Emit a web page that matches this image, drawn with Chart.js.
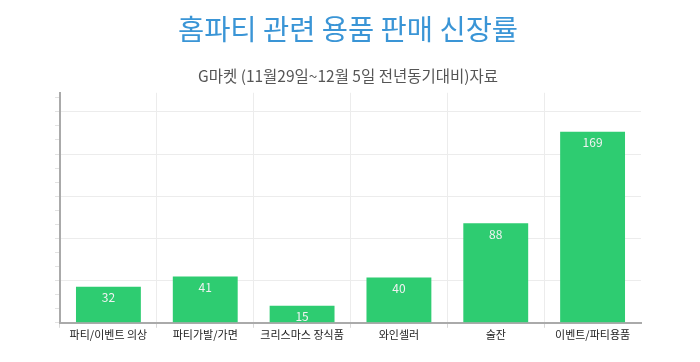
<!DOCTYPE html>
<html>
<head>
<meta charset="utf-8">
<script src="https://cdn.jsdelivr.net/npm/chart.js@4"></script>
<style>
  body { margin: 0; background: #fff; }
  #wrap { width: 700px; height: 362px; }
</style>
</head>
<body>
<div id="wrap"><canvas id="chart" width="700" height="362"></canvas></div>
<script>
// Data
var categories = ['파티/이벤트 의상', '파티가발/가면', '크리스마스 장식품', '와인셀러', '술잔', '이벤트/파티용품'];
var growth = [32, 41, 15, 40, 88, 169];

var FONT = '"Noto Sans CJK KR", "Noto Sans", sans-serif';
var yMax = 203.5;
var yStep = 12.444;  // minor tick spacing, every third one gets a grid line

// Draw the value inside the top of each bar
var valueLabels = {
    id: 'valueLabels',
    afterDatasetsDraw: function(chart) {
        var ctx = chart.ctx;
        var meta = chart.getDatasetMeta(0);
        ctx.save();
        ctx.font = '12px ' + FONT;
        ctx.fillStyle = '#f2f2f2';
        ctx.textAlign = 'center';
        ctx.textBaseline = 'middle';
        meta.data.forEach(function(bar, i) {
            ctx.fillText(growth[i], bar.x, bar.y + 11);
        });
        ctx.restore();
    }
};

var ctx = document.getElementById('chart').getContext('2d');
new Chart(ctx, {
    type: 'bar',
    data: {
        labels: categories,
        datasets: [{
            data: growth,
            backgroundColor: '#2ecc71',
            barPercentage: 0.67,
            categoryPercentage: 1
        }]
    },
    options: {
        responsive: false,
        animation: false,
        layout: { padding: { left: 55, right: 59, bottom: 21 } },
        plugins: {
            legend: { display: false },
            tooltip: { enabled: false },
            title: {
                display: true,
                text: '홈파티 관련 용품 판매 신장률',
                color: '#3a95d6',
                font: { family: FONT, size: 28.5, weight: 'normal' },
                padding: { top: 12, bottom: 21 }
            },
            subtitle: {
                display: true,
                text: 'G마켓 (11월29일~12월 5일 전년동기대비)자료',
                color: '#555',
                font: { family: FONT, size: 15.5 },
                padding: { top: 0, bottom: 7 }
            }
        },
        scales: {
            x: {
                grid: {
                    color: function(c) {
                        return (c.index === undefined || c.index === 0 || c.index >= categories.length) ? 'rgba(0,0,0,0)' : '#ececec';
                    },
                    tickColor: function(c) {
                        return (c.index === undefined || c.index >= categories.length) ? 'rgba(0,0,0,0)' : '#d8d8d8';
                    },
                    tickLength: 5
                },
                border: { color: '#aaa', width: 2 },
                ticks: { color: '#222', font: { family: FONT, size: 11 }, padding: 0 }
            },
            y: {
                min: 0,
                max: yMax,
                afterBuildTicks: function(axis) {
                    var t = [];
                    for (var k = 0; k * yStep <= yMax; k++) t.push({ value: k * yStep });
                    axis.ticks = t;
                },
                grid: {
                    color: function(c) {
                        return (c.index % 3 === 0 && c.index > 0) ? '#ececec' : 'rgba(0,0,0,0)';
                    },
                    tickColor: '#e2e2e2',
                    tickLength: 5
                },
                border: { color: '#aaa', width: 2 },
                ticks: { display: false }
            }
        }
    },
    plugins: [valueLabels]
});
</script>
</body>
</html>
